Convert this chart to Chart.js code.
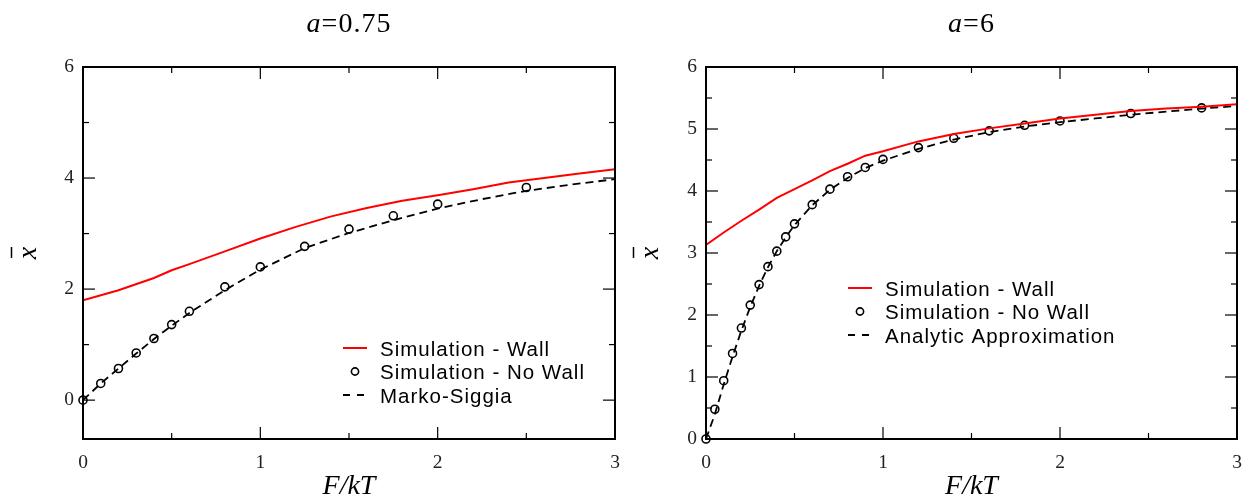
<!DOCTYPE html>
<html>
<head>
<meta charset="utf-8">
<script src="https://cdn.jsdelivr.net/npm/chart.js@4.4.1/dist/chart.umd.min.js"></script>
<style>
html, body { margin: 0; padding: 0; background: #fff; }
#wrap { position: relative; width: 1249px; height: 500px; overflow: hidden; }
#leftChart { position: absolute; left: 0; top: 0; }
#rightChart { position: absolute; left: 625px; top: 0; }
</style>
</head>
<body>
<div id="wrap">
  <canvas id="leftChart" width="625" height="500"></canvas>
  <canvas id="rightChart" width="624" height="500"></canvas>
</div>
<script>
const seriesNames = ['Simulation - Wall', 'Simulation - No Wall'];
const leftCurveName = 'Marko-Siggia';
const rightCurveName = 'Analytic Approximation';
const panelTitles = ['0.75', '6'];

const xTicks = [0, 1, 2, 3];
const leftYTicks = [0, 2, 4, 6];
const rightYTicks = [0, 1, 2, 3, 4, 5, 6];

// a = 0.75
const leftWallX = [0, 0.2, 0.4, 0.5, 0.6, 0.8, 1.0, 1.2, 1.4, 1.6, 1.8, 2.0, 2.2, 2.4, 2.6, 2.8, 3.0];
const leftWallY = [1.80, 1.98, 2.20, 2.34, 2.45, 2.68, 2.91, 3.12, 3.31, 3.46, 3.59, 3.69, 3.80, 3.92, 4.00, 4.08, 4.16];
const leftNoWallX = [0, 0.1, 0.2, 0.3, 0.4, 0.5, 0.6, 0.8, 1.0, 1.25, 1.5, 1.75, 2.0, 2.5];
const leftNoWallY = [0, 0.30, 0.57, 0.85, 1.11, 1.36, 1.60, 2.04, 2.40, 2.77, 3.08, 3.32, 3.53, 3.83];
const leftCurveX = [0, 0.1, 0.2, 0.3, 0.4, 0.5, 0.6, 0.8, 1.0, 1.25, 1.5, 1.75, 2.0, 2.25, 2.5, 2.75, 3.0];
const leftCurveY = [0, 0.30, 0.57, 0.84, 1.10, 1.34, 1.57, 1.98, 2.35, 2.74, 3.01, 3.24, 3.45, 3.62, 3.77, 3.88, 3.98];

// a = 6
const rightWallX = [0, 0.1, 0.2, 0.3, 0.4, 0.5, 0.6, 0.7, 0.8, 0.9, 1.0, 1.2, 1.4, 1.6, 1.8, 2.0, 2.2, 2.4, 2.6, 2.8, 3.0];
const rightWallY = [3.13, 3.33, 3.52, 3.70, 3.89, 4.03, 4.17, 4.32, 4.44, 4.57, 4.64, 4.80, 4.92, 5.01, 5.09, 5.17, 5.23, 5.29, 5.33, 5.36, 5.40];
const rightNoWallX = [0, 0.05, 0.1, 0.15, 0.2, 0.25, 0.3, 0.35, 0.4, 0.45, 0.5, 0.6, 0.7, 0.8, 0.9, 1.0, 1.2, 1.4, 1.6, 1.8, 2.0, 2.4, 2.8];
const rightNoWallY = [0, 0.48, 0.94, 1.38, 1.79, 2.16, 2.49, 2.78, 3.03, 3.26, 3.47, 3.78, 4.03, 4.23, 4.38, 4.51, 4.70, 4.85, 4.97, 5.06, 5.13, 5.25, 5.34];
const rightCurveX = [0, 0.05, 0.1, 0.15, 0.2, 0.25, 0.3, 0.35, 0.4, 0.45, 0.5, 0.6, 0.7, 0.8, 0.9, 1.0, 1.2, 1.4, 1.6, 1.8, 2.0, 2.2, 2.4, 2.6, 2.8, 3.0];
const rightCurveY = [0, 0.40, 0.88, 1.33, 1.75, 2.13, 2.47, 2.77, 3.03, 3.25, 3.45, 3.77, 4.02, 4.21, 4.37, 4.49, 4.68, 4.83, 4.95, 5.04, 5.11, 5.17, 5.23, 5.28, 5.33, 5.37];

const serif = "'Liberation Serif', 'Times New Roman', serif";
const sans = "'Liberation Sans', Arial, sans-serif";

function pts(xs, ys) {
    return xs.map((x, i) => ({ x: x, y: ys[i] }));
}

function midpoints(t) {
    const out = [];
    for (let i = 1; i < t.length; i++) out.push((t[i - 1] + t[i]) / 2);
    return out;
}

// frame, inward ticks, panel title, y label and legend
const decorPlugin = {
    id: 'decor',
    afterDraw(chart, args, o) {
        const ctx = chart.ctx;
        const a = chart.chartArea;
        const xs = chart.scales.x, ys = chart.scales.y;
        ctx.save();
        ctx.strokeStyle = '#000';
        ctx.lineWidth = 1.2;
        const seg = (x1, y1, x2, y2) => { ctx.beginPath(); ctx.moveTo(x1, y1); ctx.lineTo(x2, y2); ctx.stroke(); };
        const xMark = (v, len) => { const p = xs.getPixelForValue(v); seg(p, a.bottom, p, a.bottom - len); seg(p, a.top, p, a.top + len); };
        const yMark = (v, len) => { const p = ys.getPixelForValue(v); seg(a.left, p, a.left + len, p); seg(a.right, p, a.right - len, p); };
        xTicks.forEach(v => xMark(v, 12));
        midpoints(xTicks).forEach(v => xMark(v, 6));
        o.yTicks.forEach(v => yMark(v, 12));
        midpoints(o.yTicks).forEach(v => yMark(v, 6));
        ctx.lineWidth = 2;
        ctx.strokeRect(a.left, a.top, a.right - a.left, a.bottom - a.top);

        // y label: x with a bar, rotated
        ctx.save();
        ctx.translate(o.yLabelX, (a.top + a.bottom) / 2);
        ctx.rotate(-Math.PI / 2);
        ctx.fillStyle = '#000';
        ctx.font = 'italic 28px ' + serif;
        ctx.textAlign = 'center';
        ctx.textBaseline = 'alphabetic';
        ctx.fillText('x', 0, 6.5);
        ctx.lineWidth = 1.5;
        seg(-5, -18, 6, -18);
        ctx.restore();

        // title  a=...
        ctx.letterSpacing = '1px';
        ctx.fillStyle = '#000';
        ctx.textBaseline = 'alphabetic';
        ctx.textAlign = 'left';
        ctx.font = 'italic 28px ' + serif;
        const wA = ctx.measureText('a').width;
        const rest = '=' + o.title;
        ctx.font = '28px ' + serif;
        const wR = ctx.measureText(rest).width;
        const tx = (a.left + a.right) / 2 - (wA + wR) / 2;
        ctx.font = 'italic 28px ' + serif;
        ctx.fillText('a', tx, 32);
        ctx.font = '28px ' + serif;
        ctx.fillText(rest, tx + wA, 32);

        // legend
        const lg = o.legend;
        ctx.font = '20.5px ' + sans;
        chart.data.datasets.forEach((ds, i) => {
            const y = lg.y + i * 23.5;
            ctx.save();
            ctx.strokeStyle = ds.borderColor;
            if (ds.showLine) {
                ctx.lineWidth = 2;
                if (ds.borderDash) ctx.setLineDash([7, 7]);
                seg(lg.x, y, lg.x + 24, y);
            } else {
                ctx.lineWidth = 1.6;
                ctx.beginPath();
                ctx.arc(lg.x + 12, y, 3.6, 0, Math.PI * 2);
                ctx.stroke();
            }
            ctx.restore();
            ctx.fillStyle = '#000';
            ctx.fillText(ds.label, lg.x + 37, y + 7.5);
        });
        ctx.restore();
    }
};

function makeChart(id, cfg) {
    return new Chart(document.getElementById(id), {
        type: 'scatter',
        data: {
            datasets: [{
                label: seriesNames[0],
                data: pts(cfg.wallX, cfg.wallY),
                showLine: true,
                borderColor: '#ff0000',
                borderWidth: 2,
                pointRadius: 0
            }, {
                label: seriesNames[1],
                data: pts(cfg.noWallX, cfg.noWallY),
                showLine: false,
                borderColor: '#000',
                pointStyle: 'circle',
                pointRadius: 4,
                pointBorderWidth: 1.6,
                pointBorderColor: '#000',
                pointBackgroundColor: 'rgba(0,0,0,0)',
                clip: false
            }, {
                label: cfg.curveName,
                data: pts(cfg.curveX, cfg.curveY),
                showLine: true,
                borderColor: '#000',
                borderWidth: 1.8,
                borderDash: [8, 5],
                pointRadius: 0
            }]
        },
        options: {
            responsive: false,
            animation: false,
            devicePixelRatio: 1,
            layout: { padding: { left: 0, top: 67, right: cfg.padRight, bottom: 0 } },
            plugins: {
                legend: { display: false },
                tooltip: { enabled: false },
                decor: { yTicks: cfg.yTicks, title: cfg.title, legend: cfg.legend, yLabelX: cfg.yLabelX }
            },
            scales: {
                x: {
                    type: 'linear',
                    min: 0,
                    max: 3,
                    afterBuildTicks: s => { s.ticks = xTicks.map(v => ({ value: v })); },
                    afterFit: s => { s.height = 61; s.paddingLeft = 0; s.paddingRight = 0; },
                    grid: { display: false, drawTicks: false },
                    border: { display: false },
                    ticks: { padding: 12.5, color: '#222', font: { family: serif, size: 19.5 } },
                    title: {
                        display: true,
                        text: 'F/kT',
                        color: '#000',
                        font: { family: serif, size: 28, style: 'italic', lineHeight: 1 },
                        padding: { top: 0, bottom: -1 }
                    }
                },
                y: {
                    type: 'linear',
                    min: cfg.yMin,
                    max: 6,
                    afterBuildTicks: s => { s.ticks = cfg.yTicks.map(v => ({ value: v })); },
                    afterFit: s => { s.width = cfg.yWidth; s.paddingTop = 0; s.paddingBottom = 0; },
                    grid: { display: false, drawTicks: false },
                    border: { display: false },
                    ticks: { padding: 9, color: '#222', font: { family: serif, size: 19.5 } }
                }
            }
        },
        plugins: [decorPlugin]
    });
}

makeChart('leftChart', {
    wallX: leftWallX, wallY: leftWallY,
    noWallX: leftNoWallX, noWallY: leftNoWallY,
    curveX: leftCurveX, curveY: leftCurveY,
    curveName: leftCurveName,
    yTicks: leftYTicks, yMin: -0.7,
    yWidth: 83, padRight: 10, yLabelX: 29.5,
    title: panelTitles[0],
    legend: { x: 343, y: 348 }
});

makeChart('rightChart', {
    wallX: rightWallX, wallY: rightWallY,
    noWallX: rightNoWallX, noWallY: rightNoWallY,
    curveX: rightCurveX, curveY: rightCurveY,
    curveName: rightCurveName,
    yTicks: rightYTicks, yMin: 0,
    yWidth: 81, padRight: 12, yLabelX: 26.5,
    title: panelTitles[1],
    legend: { x: 223, y: 288 }
});
</script>
</body>
</html>
